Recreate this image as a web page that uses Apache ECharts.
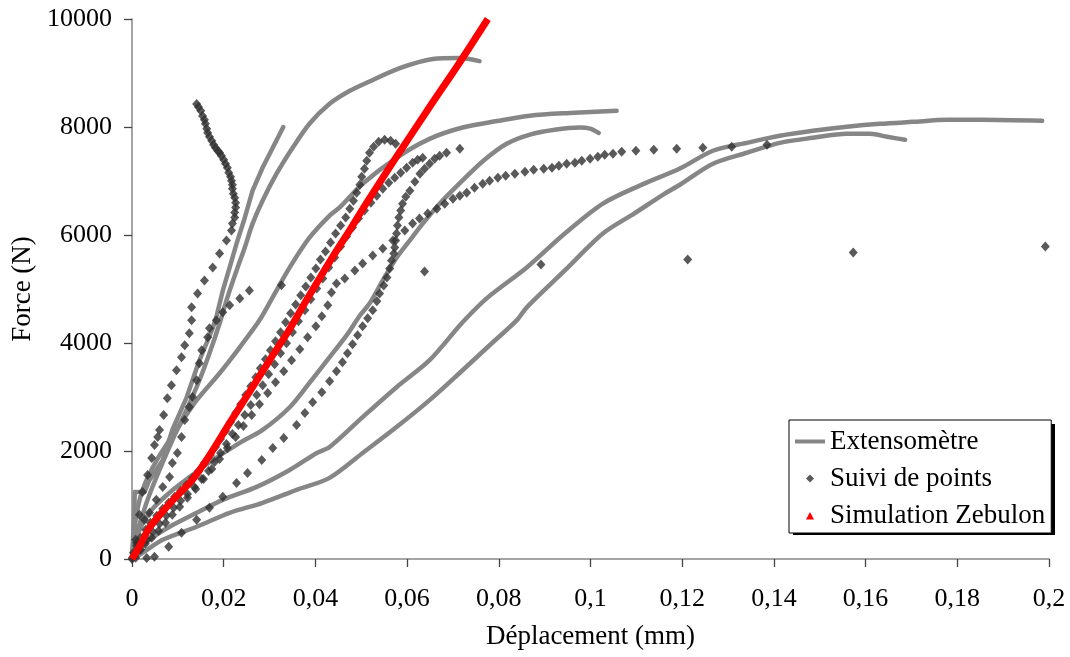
<!DOCTYPE html>
<html><head><meta charset="utf-8">
<script src="https://cdn.jsdelivr.net/npm/echarts@6/dist/echarts.min.js"></script>
<style>html,body{margin:0;padding:0;background:#fff}#c{width:1070px;height:657px}</style>
</head><body><div id="c"></div>
<script>
// Tick labels
const xTickLabels = ['0','0,02','0,04','0,06','0,08','0,1','0,12','0,14','0,16','0,18','0,2'];
const yTickLabels = ['0','2000','4000','6000','8000','10000'];

// Extensomètre curves [déplacement (mm), force (N)]
const ext1 = [[0,0],[0.0005,850],[0.0006,1240],[0.0027,1240],[0.0038,1460],[0.0067,1830],[0.0088,2390],[0.0119,2990],[0.0147,3680],[0.0175,4250],[0.0184,4480],[0.0198,4970],[0.0213,5400],[0.0228,5840],[0.0246,6320],[0.0263,6820],[0.0285,7250],[0.0315,7750],[0.033,8000]];
const ext2 = [[0,0],[0.001,450],[0.0023,820],[0.0038,1190],[0.006,1650],[0.0088,2200],[0.0119,2760],[0.0147,3310],[0.0169,3810],[0.0191,4360],[0.0208,4840],[0.0228,5340],[0.0246,5770],[0.0263,6210],[0.0285,6640],[0.0315,7130],[0.035,7610],[0.0387,8060],[0.0431,8430],[0.0475,8670],[0.0512,8820],[0.0584,9090],[0.0656,9260],[0.0715,9280],[0.0758,9220]];
const ext3 = [[0,0],[0.0008,730],[0.0023,1280],[0.0054,1830],[0.0097,2390],[0.0141,2940],[0.0191,3440],[0.0235,3920],[0.0278,4420],[0.0307,4850],[0.0344,5400],[0.0387,5950],[0.0431,6360],[0.0453,6510],[0.0503,6950],[0.0577,7430],[0.0649,7780],[0.0721,7990],[0.0796,8110],[0.0868,8210],[0.0955,8260],[0.1057,8300]];
const ext4 = [[0,0],[0.001,410],[0.0038,860],[0.0082,1230],[0.0126,1520],[0.0176,1830],[0.0235,2150],[0.0285,2390],[0.0344,2810],[0.0387,3260],[0.0431,3740],[0.0468,4140],[0.0497,4510],[0.0518,4730],[0.0547,5160],[0.0577,5580],[0.0606,5900],[0.0634,6210],[0.0671,6580],[0.0721,7010],[0.0767,7380],[0.0817,7690],[0.0868,7860],[0.0922,7950],[0.0977,7990],[0.0999,7970],[0.1018,7890]];
const ext5 = [[0,0],[0.001,116],[0.0038,356],[0.0082,597],[0.0141,855],[0.0198,1095],[0.0272,1335],[0.0344,1649],[0.0403,1963],[0.0431,2074],[0.0503,2628],[0.0577,3182],[0.0649,3681],[0.0721,4383],[0.0776,4845],[0.0861,5399],[0.0944,6027],[0.1027,6581],[0.1112,6932],[0.1195,7230],[0.1267,7560],[0.1341,7707],[0.1413,7837],[0.1485,7929],[0.1559,8003],[0.1631,8058],[0.1703,8095],[0.1778,8132],[0.185,8132],[0.1985,8114]];
const ext6 = [[0,0],[0.0023,116],[0.0067,356],[0.0141,597],[0.0213,855],[0.0285,1040],[0.0359,1280],[0.0431,1502],[0.0503,1963],[0.0577,2444],[0.0649,2942],[0.0721,3496],[0.078,3958],[0.0839,4420],[0.0861,4660],[0.0944,5343],[0.1027,6027],[0.1095,6396],[0.1162,6766],[0.1195,6930],[0.1267,7320],[0.1341,7523],[0.1413,7707],[0.1485,7800],[0.1559,7874],[0.161,7874],[0.1647,7818],[0.1686,7763]];

// Suivi de points series
const pts1 = [[0.0141,8428],[0.0145,8372],[0.015,8299],[0.0154,8206],[0.0158,8132],[0.016,8058],[0.0163,7966],[0.0165,7892],[0.0169,7818],[0.0174,7745],[0.0178,7671],[0.0182,7615],[0.0187,7560],[0.0191,7523],[0.0195,7467],[0.02,7394],[0.0204,7320],[0.0208,7246],[0.0211,7153],[0.0215,7080],[0.0217,7006],[0.0219,6932],[0.0219,6858],[0.0221,6766],[0.0224,6692],[0.0226,6599],[0.0226,6507],[0.0224,6415],[0.0224,6322],[0.0219,6211],[0.0217,6082],[0.0206,5897],[0.0191,5657],[0.0176,5399],[0.0158,5159],[0.0143,4918],[0.013,4660],[0.013,4420],[0.0125,4180],[0.0115,3958],[0.0108,3736],[0.0097,3496],[0.0086,3219],[0.0077,2979],[0.0069,2665],[0.006,2388],[0.0056,2259],[0.0049,2111],[0.0043,1871],[0.0034,1557],[0.0023,1243],[0.0016,818],[0.0008,356],[0.0001,24]];
const pts2 = [[0.001,301],[0.0027,726],[0.0038,855],[0.0053,1095],[0.0067,1335],[0.0082,1520],[0.0088,1779],[0.0099,1963],[0.0108,2259],[0.0115,2573],[0.0125,2813],[0.0132,2998],[0.0141,3312],[0.0147,3625],[0.0152,3866],[0.0165,4106],[0.0169,4272],[0.0184,4420],[0.0198,4568],[0.0213,4697],[0.0235,4826],[0.0256,4974]];
const pts3 = [[0.0003,116],[0.001,246],[0.0019,393],[0.003,541],[0.004,670],[0.0054,800],[0.0067,929],[0.008,1040],[0.0093,1151],[0.0106,1262],[0.0119,1372],[0.0132,1502],[0.0145,1631],[0.0158,1779],[0.0171,1926],[0.0182,2074],[0.0193,2222],[0.0204,2370],[0.0215,2536],[0.0226,2702],[0.0237,2868],[0.0248,3035],[0.0259,3201],[0.027,3367],[0.028,3533],[0.0291,3700],[0.0302,3866],[0.0313,4032],[0.0324,4198],[0.0335,4383],[0.0346,4549],[0.0357,4715],[0.0368,4882],[0.0379,5048],[0.039,5214],[0.0401,5380],[0.0411,5547],[0.0422,5694],[0.0433,5860],[0.0444,6027],[0.0455,6175],[0.0466,6322],[0.0475,6488],[0.0483,6636],[0.049,6784],[0.0497,6932],[0.0501,7080],[0.0507,7227],[0.0512,7375],[0.0518,7523],[0.0527,7634],[0.0538,7726],[0.0551,7763],[0.0564,7745],[0.0575,7689]];
const pts4 = [[0.0008,24],[0.0019,172],[0.0032,356],[0.0045,504],[0.006,652],[0.0075,800],[0.0091,948],[0.0106,1077],[0.0121,1206],[0.0136,1335],[0.0152,1483],[0.0167,1631],[0.018,1797],[0.0193,1963],[0.0206,2130],[0.0219,2314],[0.0232,2481],[0.0246,2665],[0.0259,2850],[0.0272,3035],[0.0285,3219],[0.0298,3422],[0.0311,3607],[0.0324,3810],[0.0337,3995],[0.035,4198],[0.0363,4401],[0.0377,4605],[0.039,4808],[0.0403,5011],[0.0416,5196],[0.0429,5399],[0.0442,5583],[0.0455,5787],[0.0468,5971],[0.0481,6138],[0.0494,6304],[0.0507,6452],[0.0521,6599],[0.0534,6729],[0.0547,6858],[0.056,6969],[0.0573,7061],[0.0586,7153],[0.0599,7246],[0.0612,7338],[0.0623,7394],[0.0634,7430]];
const pts5 = [[0,0],[0.0032,20],[0.0049,40],[0.008,227],[0.0108,486],[0.0141,726],[0.0169,948],[0.0198,1151],[0.0228,1409],[0.0252,1594],[0.0283,1834],[0.0307,2056],[0.0331,2240],[0.0359,2481],[0.0377,2702],[0.0394,2905],[0.0414,3090],[0.0431,3293],[0.0446,3478],[0.0459,3644],[0.047,3810],[0.0481,3977],[0.0492,4143],[0.0503,4309],[0.0514,4457],[0.0525,4605],[0.0534,4771],[0.054,4918],[0.0549,5066],[0.0556,5214],[0.0562,5380],[0.0566,5528],[0.0571,5657],[0.0573,5768],[0.0575,5897],[0.0577,6027],[0.0579,6175],[0.0582,6322],[0.0586,6452],[0.059,6581],[0.0597,6710],[0.0606,6821],[0.0617,6987],[0.0628,7135],[0.0638,7227],[0.0649,7320],[0.066,7412],[0.0671,7467],[0.0686,7523],[0.0715,7597]];
const pts6 = [[0.0005,61],[0.0016,172],[0.0029,283],[0.0043,393],[0.0058,523],[0.0073,670],[0.0088,818],[0.0104,966],[0.0121,1132],[0.0139,1298],[0.0156,1483],[0.0174,1668],[0.0191,1853],[0.0208,2056],[0.0226,2259],[0.0243,2462],[0.0261,2665],[0.0278,2868],[0.0296,3072],[0.0313,3275],[0.0331,3478],[0.0348,3681],[0.0366,3884],[0.0383,4106],[0.0401,4309],[0.0414,4494],[0.0427,4697],[0.0435,4937],[0.0446,5103],[0.0464,5196],[0.0486,5343],[0.0503,5473],[0.0525,5620],[0.0547,5750],[0.0569,5897],[0.0595,6082],[0.0612,6211],[0.0627,6304],[0.0645,6396],[0.0665,6488],[0.0682,6581],[0.07,6673],[0.0715,6729],[0.073,6784],[0.0747,6876],[0.0765,6950],[0.078,7006],[0.0798,7061],[0.0815,7098],[0.0835,7135],[0.0857,7172],[0.0876,7209],[0.0898,7227],[0.0916,7246],[0.0931,7283],[0.0948,7320],[0.0966,7338],[0.0981,7375],[0.0999,7412],[0.1016,7449],[0.1031,7486],[0.1049,7504],[0.1068,7541],[0.1099,7560],[0.1138,7578],[0.1188,7597],[0.1245,7615],[0.1308,7634],[0.1385,7671]];
const pts7 = [[0.0326,5070],[0.0638,5325],[0.0892,5454],[0.1212,5546],[0.1573,5676],[0.1992,5787]];

// Simulation Zebulon
const zebulon = [[0,0],[0.0016,230],[0.0038,580],[0.0067,880],[0.0097,1160],[0.0132,1470],[0.0169,1920],[0.0213,2520],[0.0256,3090],[0.03,3680],[0.0344,4260],[0.0381,4800],[0.0438,5600],[0.0475,6090],[0.0512,6600],[0.0577,7450],[0.0649,8370],[0.0715,9200],[0.0776,10000]];

const extCurves = [ext1, ext2, ext3, ext4, ext5, ext6];
const ptsSeries = [pts1, pts2, pts3, pts4, pts5, pts6, pts7];

const GRAY = '#868686', DARK = '#303030', RED = '#ff0000';
const FONT = 'Liberation Serif';

const series = [];
extCurves.forEach(function (d, i) {
  series.push({type: 'line', name: 'Extensomètre', data: d, symbol: 'none',
    smooth: i === 0 ? false : 0.3, lineStyle: {color: GRAY, width: 4.5, cap: 'round', join: 'round'},
    itemStyle: {color: GRAY}, z: 2});
});
ptsSeries.forEach(function (d) {
  series.push({type: 'scatter', name: 'Suivi de points', data: d, symbol: 'diamond', symbolSize: [9, 10],
    itemStyle: {color: DARK}, z: 3});
});
series.push({type: 'line', name: 'Simulation Zebulon', data: zebulon, symbol: 'none', smooth: 0.3,
  lineStyle: {color: RED, width: 7}, itemStyle: {color: RED}, z: 4});

const chart = echarts.init(document.getElementById('c'), null, {renderer: 'canvas'});
chart.setOption({
  animation: false,
  backgroundColor: '#fff',
  grid: {left: 132, right: 21, top: 19, bottom: 98, containLabel: false},
  xAxis: {
    type: 'value', min: 0, max: 0.2, interval: 0.02,
    name: 'Déplacement (mm)', nameLocation: 'middle', nameGap: 64,
    nameTextStyle: {fontFamily: FONT, fontSize: 27, color: '#000'},
    axisLine: {lineStyle: {color: GRAY, width: 1.5}},
    axisTick: {show: true, length: 8, lineStyle: {color: '#444', width: 1.3}},
    axisLabel: {margin: 27, fontFamily: FONT, fontSize: 26, color: '#000',
      formatter: function (v, idx) { return xTickLabels[idx]; }},
    splitLine: {show: false}
  },
  yAxis: {
    type: 'value', min: 0, max: 10000, interval: 2000,
    name: 'Force (N)', nameLocation: 'middle', nameGap: 92,
    nameTextStyle: {fontFamily: FONT, fontSize: 27, color: '#000'},
    axisLine: {show: true, lineStyle: {color: GRAY, width: 1.5}},
    axisTick: {show: true, length: 8, lineStyle: {color: '#444', width: 1.3}},
    axisLabel: {margin: 20, fontFamily: FONT, fontSize: 26, color: '#000',
      formatter: function (v, idx) { return yTickLabels[idx]; }},
    splitLine: {show: false}
  },
  graphic: [{
    type: 'rect', left: 793, top: 424, z: 1, silent: true,
    shape: {width: 262, height: 111}, style: {fill: '#000'}
  }],
  legend: {
    orient: 'vertical', left: 789, top: 420, z: 10,
    selectedMode: false,
    backgroundColor: '#fff', borderColor: '#000', borderWidth: 1,
    padding: [8, 6, 4, 6], itemGap: 10, itemWidth: 30, itemHeight: 9,
    textStyle: {fontFamily: FONT, fontSize: 27, color: '#000'},
    data: [
      {name: 'Extensomètre', icon: 'path://M0,0 M30,9 M0,2.5 L30,2.5 L30,6.5 L0,6.5 Z'},
      {name: 'Suivi de points', icon: 'path://M0,0 M30,9 M15,0.5 L19,4.5 L15,8.5 L11,4.5 Z'},
      {name: 'Simulation Zebulon', icon: 'path://M0,0 M30,9 M15,1 L19,8.5 L11,8.5 Z'}
    ]
  },
  series: series
});
</script></body></html>
